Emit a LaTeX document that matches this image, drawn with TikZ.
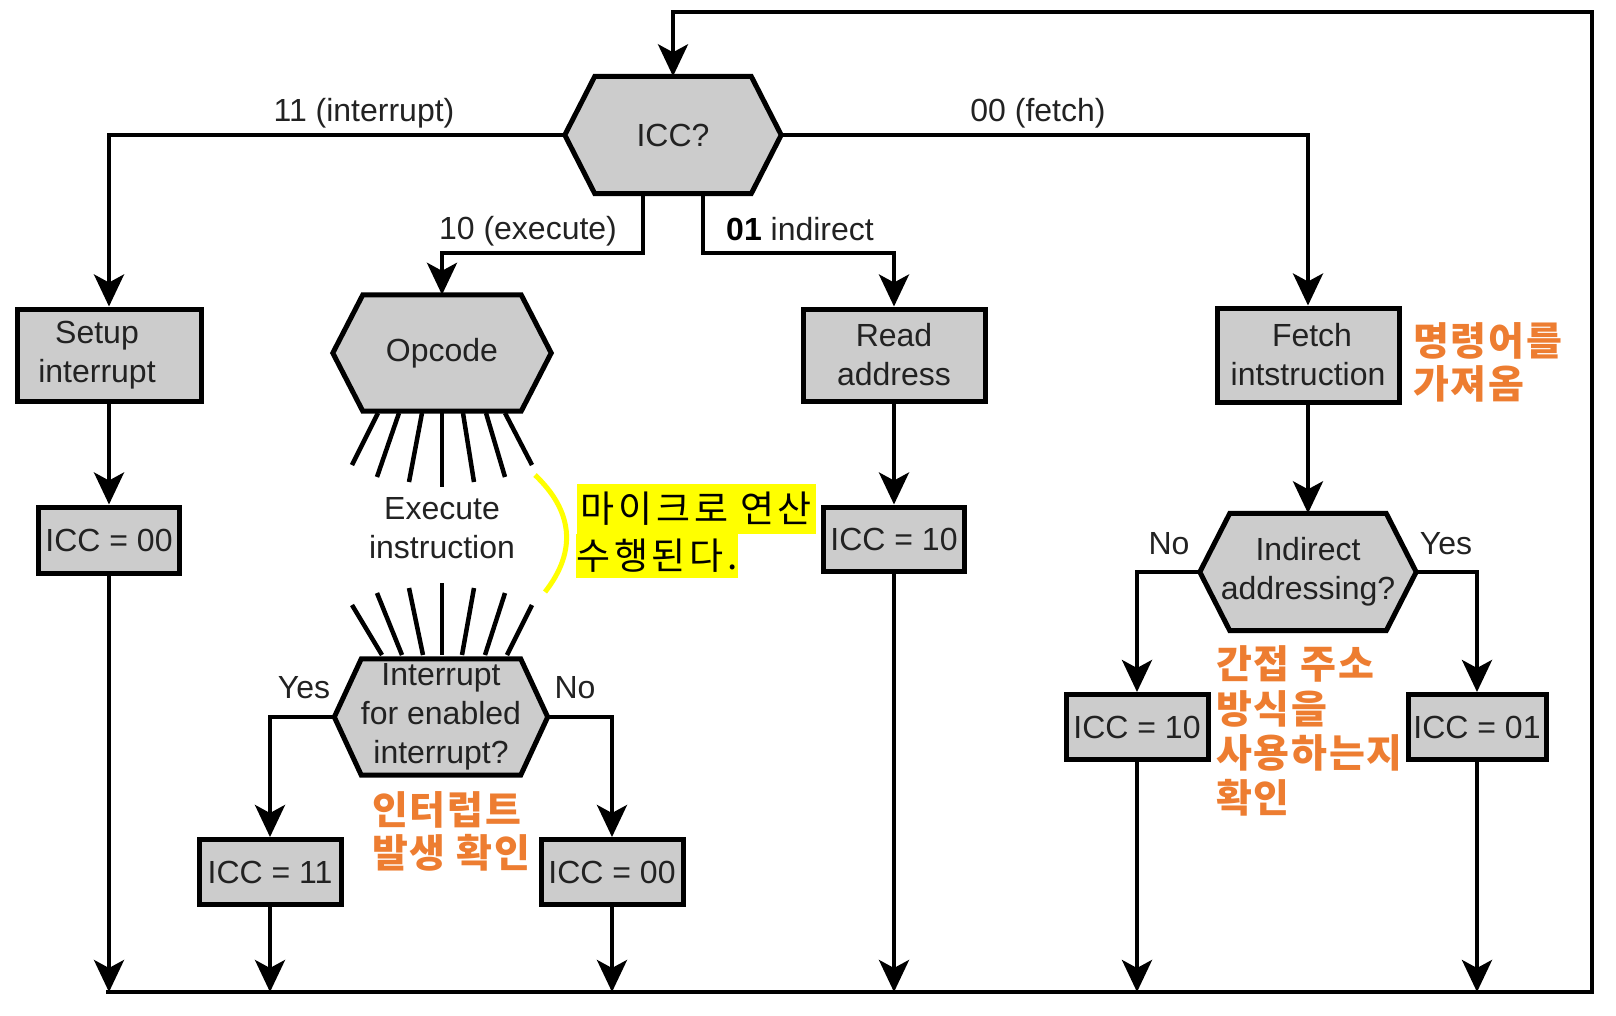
\documentclass[tikz,border=0pt]{standalone}
\usepackage{fontspec}
\setmainfont{Liberation Sans}
\newfontfamily\kor{Noto Sans CJK KR}[LetterSpace=10]
\newfontfamily\korb{Noto Sans CJK KR}[LetterSpace=4.5]
\usetikzlibrary{arrows.meta,backgrounds}
\definecolor{boxgray}{HTML}{CCCCCC}
\definecolor{txtgray}{HTML}{222222}
\definecolor{annoorange}{HTML}{ED7D31}
\definecolor{hlyellow}{HTML}{FFFF00}
\newcommand\hexpath[2]{%
  \begin{scope}[on background layer]
    \filldraw[shapeline] (#1.west) -- ([xshift=#2]#1.north west) -- ([xshift=-#2]#1.north east) -- (#1.east) -- ([xshift=-#2]#1.south east) -- ([xshift=#2]#1.south west) -- cycle;
  \end{scope}}
\begin{document}
\begin{tikzpicture}[x=1pt,y=-1pt,
  base/.style={font=\fontsize{32}{39}\selectfont, text=txtgray},
  box/.style={base, draw=black, fill=boxgray, line width=5pt, inner sep=0pt, align=center},
  hexnode/.style={base, inner sep=0pt, align=center},
  shapeline/.style={draw=black, fill=boxgray, line width=5pt, line join=miter},
  conn/.style={line width=4pt, line join=miter},
  arr/.style={conn, -{Stealth[length=32pt,width=30pt,inset=8pt]}},
  lbl/.style={base, inner sep=0pt},
  ray/.style={line width=4.5pt},
  annotxt/.style={font=\korb\bfseries\fontsize{39}{43}\selectfont, text=annoorange, align=left, inner sep=0pt, anchor=west},
  hl/.style={font=\kor\fontsize{37}{44}\selectfont, fill=hlyellow, text=black, inner sep=0pt},
  yellowline/.style={draw=hlyellow, line width=5pt}
]
\useasboundingbox (0,0) rectangle (1616,1015);

% nodes
\node[hexnode, minimum width=216pt, minimum height=117pt] (icc) at (673,135) {ICC?};
\hexpath{icc}{30pt}
\node[box, minimum width=184pt, minimum height=92pt] (setup) at (109,355) {Setup\hspace*{24pt}\\interrupt\hspace*{24pt}};
\node[box, minimum width=141pt, minimum height=66pt] (c00a) at (109,540) {ICC = 00};
\node[hexnode, minimum width=218pt, minimum height=116pt] (opc) at (442,353) {Opcode};
\hexpath{opc}{30pt}
\node[lbl, align=center] (exe) at (442,528) {Execute\\instruction};
\node[hexnode, minimum width=213pt, minimum height=116pt] (intr) at (441,717) {Interrupt\\for enabled\\interrupt?};
\hexpath{intr}{27pt}
\node[box, minimum width=142pt, minimum height=65pt] (c11) at (270,872) {ICC = 11};
\node[box, minimum width=142pt, minimum height=65pt] (c00b) at (612,872) {ICC = 00};
\node[box, minimum width=182pt, minimum height=92pt] (read) at (894,355) {Read\\address};
\node[box, minimum width=141pt, minimum height=64pt] (c10a) at (894,539) {ICC = 10};
\node[box, minimum width=182pt, minimum height=94pt] (fetch) at (1308,355) {\hspace*{8pt}Fetch\\intstruction};
\node[hexnode, minimum width=216pt, minimum height=117pt] (ind) at (1308,572) {Indirect\\addressing?};
\hexpath{ind}{30pt}
\node[box, minimum width=142pt, minimum height=65pt] (c10b) at (1137,727) {ICC = 10};
\node[box, minimum width=138pt, minimum height=65pt] (c01) at (1477,727) {ICC = 01};

% helper coordinates
\coordinate (bl) at (106,992);
\coordinate (br) at (1592,992);
\coordinate (tr) at (1592,12);
\coordinate (j1) at (643,253);
\coordinate (j2) at (703,253);

% connectors
\draw[arr] (bl) -- (br) -- (tr) -| (icc.north);
\draw[arr] (icc.west) -| (setup.north);
\draw[arr] (icc.east) -| (fetch.north);
\draw[arr] (icc.south -| j1) -- (j1) -| (opc.north);
\draw[arr] (icc.south -| j2) -- (j2) -| (read.north);
\draw[arr] (setup) -- (c00a);
\draw[arr] (c00a.south) -- (c00a.south |- bl);
\draw[arr] (intr.west) -| (c11.north);
\draw[arr] (intr.east) -| (c00b.north);
\draw[arr] (c11.south) -- (c11.south |- bl);
\draw[arr] (c00b.south) -- (c00b.south |- bl);
\draw[arr] (read) -- (c10a);
\draw[arr] (c10a.south) -- (c10a.south |- bl);
\draw[arr] (fetch) -- (ind);
\draw[arr] (ind.west) -| (c10b.north);
\draw[arr] (ind.east) -| (c01.north);
\draw[arr] (c10b.south) -- (c10b.south |- bl);
\draw[arr] (c01.south) -- (c01.south |- bl);

% rays
\foreach \a/\b/\c/\d in {378/413/352/465, 399/413/377/477, 422/413/409/482, 442/413/442/487, 463/413/474/482, 486/413/505/477, 505/413/532/465}
  \draw[ray] (\a,\b) -- (\c,\d);
\foreach \a/\b/\c/\d in {352/605/382/655, 377/593/402/655, 409/588/423/655, 442/583/442/655, 474/588/462/655, 505/593/485/655, 532/605/507/655}
  \draw[ray] (\a,\b) -- (\c,\d);

% labels
\node[lbl] (l11) at (364,113) {11 (interrupt)};
\node[lbl] (l00) at (1038,113) {00 (fetch)};
\node[lbl] (l10) at (528,231) {10 (execute)};
\node[lbl, anchor=west] (l01) at (726,229) {\textcolor{black}{\textbf{01}} indirect};
\node[lbl] (y1) at (304,688) {Yes};
\node[lbl] (n1) at (575,688) {No};
\node[lbl] (n2) at (1169,544) {No};
\node[lbl] (y2) at (1446,544) {Yes};

% annotations
\node[annotxt] (a1) at (1413,362) {명령어를\\가져옴};
\node[annotxt] (a2) at (372,831) {인터럽트\\발생 확인};
\node[annotxt, font=\korb\bfseries\fontsize{39}{44.5}\selectfont] (a3) at (1216,731) {간접 주소\\방식을\\사용하는지\\확인};
\node[hl, minimum width=239pt, minimum height=50pt] (m1) at (696.5,509) {마이크로 연산};
\node[hl, minimum width=160pt, minimum height=44pt] (m2) at (657,556) {수행된다.};
\draw[yellowline] (535,475) .. controls (572,510) and (578,550) .. (545,592);
\end{tikzpicture}
\end{document}
